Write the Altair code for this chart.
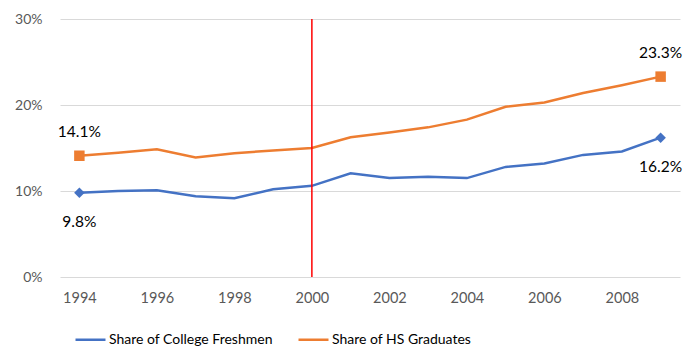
import altair as alt
import pandas as pd

years = list(range(1994, 2010))
college = [9.8, 10.0, 10.1, 9.4, 9.15, 10.2, 10.6, 12.05, 11.5, 11.65, 11.5, 12.8, 13.2, 14.2, 14.6, 16.2]
hs = [14.1, 14.45, 14.85, 13.9, 14.4, 14.7, 15.0, 16.25, 16.8, 17.4, 18.3, 19.8, 20.3, 21.4, 22.3, 23.3]
series_names = ["Share of College Freshmen", "Share of HS Graduates"]
colors = ["#4472C4", "#ED7D31"]
x_ticks = [1994, 1996, 1998, 2000, 2002, 2004, 2006, 2008]
y_ticks = [0, 0.1, 0.2, 0.3]
marker_years = [1994, 2009]
cutoff_year = [2000]

rows = []
for name, vals in zip(series_names, [college, hs]):
    for yr, v in zip(years, vals):
        rows.append({"year": yr, "value": v / 100.0, "series": name, "marker": name})
df = pd.DataFrame(rows)
ends = df[df["year"].isin(marker_years)]
FONT = "Lato"

x = alt.X("year:Q",
          scale=alt.Scale(domain=[1993.5, 2009.5], nice=False, zero=False),
          axis=alt.Axis(values=x_ticks, format="d", grid=False, domain=False, ticks=False,
                        labelPadding=14, labelFontSize=14.5, labelColor="#595959",
                        labelFont=FONT, title=None))
y = alt.Y("value:Q",
          scale=alt.Scale(domain=[0, 0.3], nice=False),
          axis=alt.Axis(values=y_ticks, format=".0%", grid=True, gridColor="#d9d9d9",
                        gridWidth=1.2, domain=False, ticks=False, labelPadding=18,
                        labelFontSize=14, labelColor="#595959", labelFont=FONT, title=None))
color = alt.Color("series:N",
                  scale=alt.Scale(domain=series_names, range=colors),
                  legend=alt.Legend(orient="none", legendX=14, legendY=304,
                                    direction="horizontal", title=None,
                                    symbolType="stroke", symbolSize=900,
                                    symbolStrokeWidth=2.5, labelFontSize=14,
                                    labelFont=FONT, labelColor="#000000",
                                    columnPadding=20, labelOffset=2,
                                    labelLimit=300))

lines = alt.Chart(df).mark_line(strokeWidth=2.5).encode(x=x, y=y, color=color)

points = alt.Chart(ends).mark_point(filled=True, opacity=1, size=110).encode(
    x="year:Q", y="value:Q",
    fill=alt.Fill("marker:N", scale=alt.Scale(domain=series_names, range=colors), legend=None),
    shape=alt.Shape("marker:N", scale=alt.Scale(domain=series_names, range=["diamond", "square"]), legend=None),
)

lab_hs = alt.Chart(ends[ends["series"] == series_names[1]]).mark_text(
    dy=-24, fontSize=15.5, font=FONT, color="#000000").encode(
    x="year:Q", y="value:Q", text=alt.Text("value:Q", format=".1%"))
lab_col = alt.Chart(ends[ends["series"] == series_names[0]]).mark_text(
    dy=29, fontSize=15.5, font=FONT, color="#000000").encode(
    x="year:Q", y="value:Q", text=alt.Text("value:Q", format=".1%"))

rule = alt.Chart(pd.DataFrame({"year": cutoff_year})).mark_rule(
    color="#FF0000", strokeWidth=1.5).encode(x="year:Q")

chart = alt.layer(lines, rule, points, lab_hs, lab_col).properties(
    width=620, height=258,
    autosize=alt.AutoSizeParams(type="none"),
    padding={"left": 60, "top": 19, "right": 18, "bottom": 72},
    background="white",
).resolve_legend(fill="independent", shape="independent").configure_view(stroke=None)

chart.save("out.html", embed_options={"renderer": "svg", "actions": False})
